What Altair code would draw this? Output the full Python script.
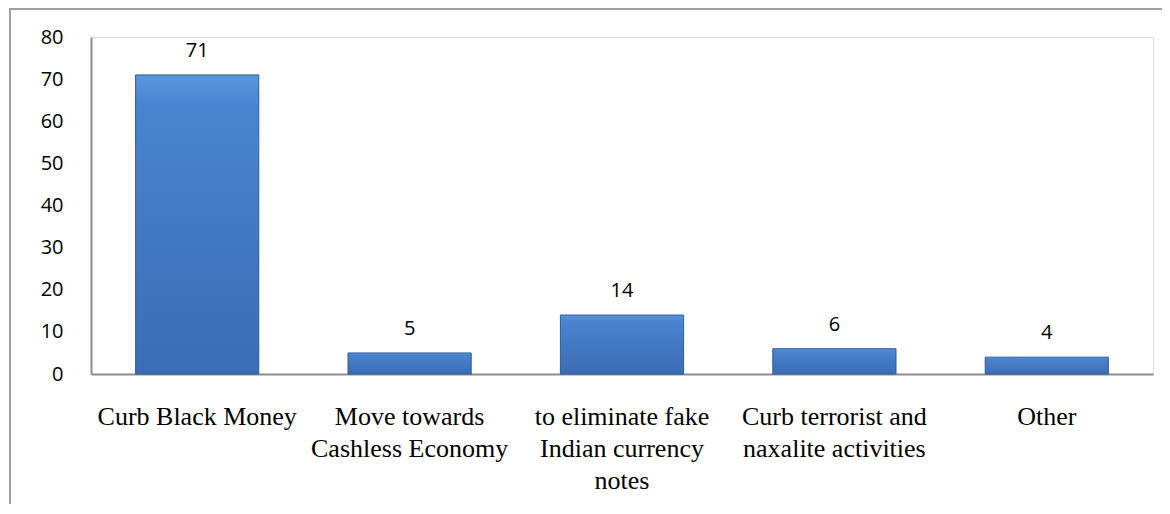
import altair as alt
import pandas as pd

categories = [
    "Curb Black Money",
    "Move towards\nCashless Economy",
    "to eliminate fake\nIndian currency\nnotes",
    "Curb terrorist and\nnaxalite activities",
    "Other",
]
values = [71, 5, 14, 6, 4]
y_ticks = [0, 10, 20, 30, 40, 50, 60, 70, 80]

df = pd.DataFrame({"category": categories, "value": values})

W, H = 1062, 337

x_enc = alt.X(
    "category:N",
    sort=None,
    scale=alt.Scale(paddingInner=0.42, paddingOuter=0.21),
    axis=alt.Axis(
        title=None,
        labelAngle=0,
        ticks=False,
        domain=True,
        domainColor="#8c8c8c",
        domainWidth=2,
        labelFont="Liberation Serif",
        labelFontSize=26,
        labelColor="#000000",
        labelLineHeight=32,
        labelPadding=42,
        labelLimit=0,
        labelBaseline="middle",
        labelExpr="split(datum.label, '\\n')",
    ),
)
y_enc = alt.Y(
    "value:Q",
    scale=alt.Scale(domain=[0, 80], nice=False),
    axis=alt.Axis(
        title=None,
        values=y_ticks,
        grid=False,
        ticks=False,
        domain=True,
        domainColor="#8c8c8c",
        domainWidth=2,
        labelFont="Open Sans",
        labelFontSize=20,
        labelColor="#000000",
        labelPadding=28,
    ),
)

bars = alt.Chart(df).mark_bar(
    fill=alt.Gradient(
        gradient="linear",
        x1=0, x2=0, y1=0, y2=1,
        stops=[
            alt.GradientStop(color="#5a97e0", offset=0),
            alt.GradientStop(color="#4a84d0", offset=0.1),
            alt.GradientStop(color="#3a6db4", offset=1),
        ],
    ),
    stroke="#2f5c98",
    strokeWidth=1,
).encode(x=x_enc, y=y_enc)

labels = alt.Chart(df).mark_text(
    font="Open Sans", fontSize=20, color="#000000", baseline="bottom", dy=-14
).encode(x=alt.X("category:N", sort=None), y="value:Q", text="value:Q")

frame = alt.Chart(df).mark_rect(
    fill=None, stroke="#a0a0a0", strokeWidth=2
).encode(
    x=alt.value(-81), x2=alt.value(1300), y=alt.value(-28), y2=alt.value(700)
)

chart = (
    alt.layer(frame, bars, labels)
    .properties(
        width=W,
        height=H,
        autosize=alt.AutoSizeParams(type="none"),
        padding={"left": 83, "top": 29, "right": 9, "bottom": 130},
    )
    .configure_view(stroke=None)
    .configure(background="white")
)

chart.save("out.html", embed_options={"renderer": "svg", "actions": False})
